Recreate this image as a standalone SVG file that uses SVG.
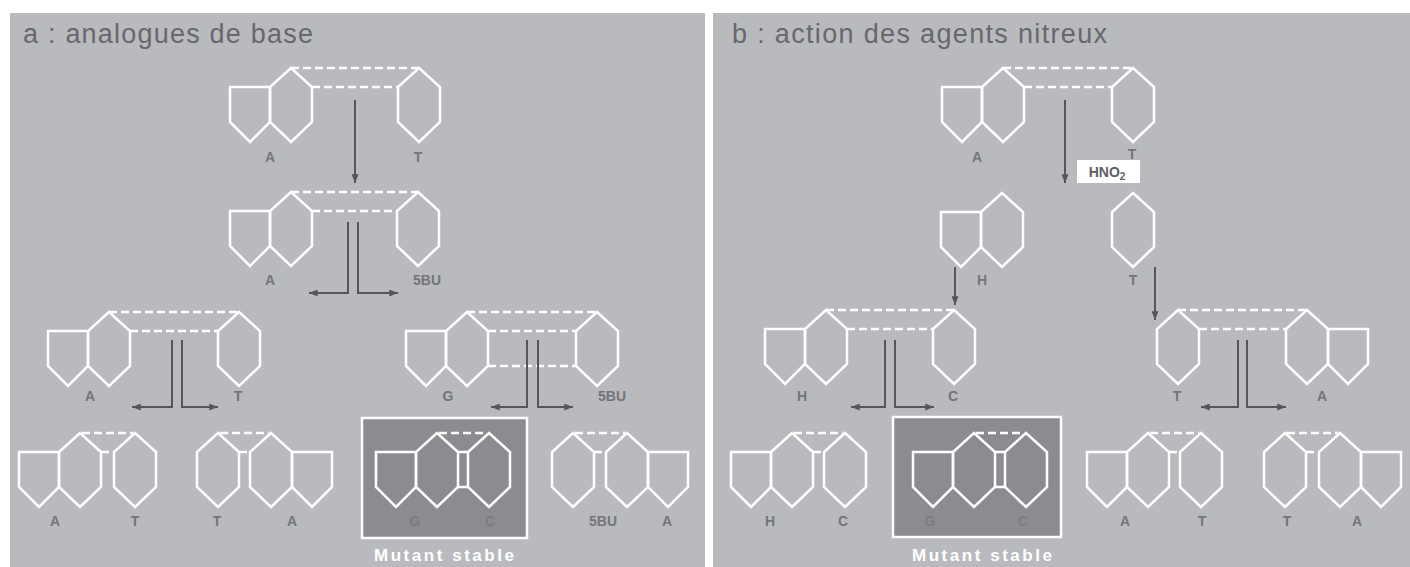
<svg xmlns="http://www.w3.org/2000/svg" xmlns:xlink="http://www.w3.org/1999/xlink" width="1410" height="567" viewBox="0 0 1410 567">
  <style>
    .ring { fill: none; stroke: #ffffff; stroke-width: 2.5; stroke-linejoin: miter; }
    .hb { fill: none; stroke: #ffffff; stroke-width: 2.5; stroke-dasharray: 8 4; }
    .bond { fill: none; stroke: #ffffff; stroke-width: 2.5; }
    .arrow { fill: none; stroke: #55565a; stroke-width: 2; }
    .lbl { font-family: "Liberation Sans", Arial, sans-serif; font-size: 14px; font-weight: bold; fill: #74757a; text-anchor: middle; }
    .lbl-dark { font-family: "Liberation Sans", Arial, sans-serif; font-size: 14px; font-weight: bold; fill: #7b7c80; text-anchor: middle; }
    .title { font-family: "Liberation Sans", Arial, sans-serif; font-size: 27px; fill: #67686c; }
    .mut { font-family: "Liberation Sans", Arial, sans-serif; font-size: 17px; font-weight: bold; fill: #ffffff; }
  </style>
  <defs>
    <!-- pyrimidine: single six-membered ring, origin at top vertex -->
    <polygon id="pyr" class="ring" points="0,0 21,19 21,54 0,74 -21,54 -21,19"/>
    <!-- purine: six-membered ring with five-membered ring on its left -->
    <g id="pur">
      <polygon class="ring" points="0,0 21,19 21,54 0,74 -21,54 -21,19"/>
      <polygon class="ring" points="-21,19 -61,19 -61,54 -41,74 -21,54"/>
    </g>
    <marker id="head" viewBox="0 0 10 8" refX="10" refY="4" markerWidth="9" markerHeight="7" markerUnits="userSpaceOnUse" orient="auto">
      <path d="M0,0 L10,4 L0,8 z" fill="#55565a"/>
    </marker>
  </defs>

  <!-- page and panels -->
  <rect x="0" y="0" width="1410" height="567" fill="#ffffff"/>
  <rect x="10" y="13" width="695" height="554" fill="#b9babe"/>
  <rect x="713" y="13" width="697" height="554" fill="#b9babe"/>

  <text class="title" x="23" y="43" textLength="290" lengthAdjust="spacing">a : analogues de base</text>
  <text class="title" x="732" y="43" textLength="375" lengthAdjust="spacing">b : action des agents nitreux</text>

  <!-- ===== panel a ===== -->
  <g id="a-AT-1">
    <use xlink:href="#pur" x="291" y="68"/>
    <use xlink:href="#pyr" x="419" y="68"/>
    <line class="hb" x1="291" y1="68" x2="419" y2="68"/>
    <line class="hb" x1="312" y1="87" x2="398" y2="87"/>
    <text class="lbl" x="270" y="162">A</text>
    <text class="lbl" x="418" y="162">T</text>
  </g>

  <g id="a-A5BU">
    <use xlink:href="#pur" x="291" y="192"/>
    <use xlink:href="#pyr" x="418" y="192"/>
    <line class="hb" x1="291" y1="192" x2="418" y2="192"/>
    <line class="hb" x1="312" y1="211" x2="397" y2="211"/>
    <text class="lbl" x="270" y="285">A</text>
    <text class="lbl" x="427" y="285">5BU</text>
  </g>

  <g id="a-AT-2">
    <use xlink:href="#pur" x="109" y="312"/>
    <use xlink:href="#pyr" x="239" y="312"/>
    <line class="hb" x1="109" y1="312" x2="239" y2="312"/>
    <line class="hb" x1="130" y1="331" x2="218" y2="331"/>
    <text class="lbl" x="90" y="401">A</text>
    <text class="lbl" x="238" y="401">T</text>
  </g>

  <g id="a-G5BU">
    <use xlink:href="#pur" x="467" y="312"/>
    <use xlink:href="#pyr" x="597" y="312"/>
    <line class="hb" x1="467" y1="312" x2="597" y2="312"/>
    <line class="hb" x1="488" y1="331" x2="576" y2="331"/>
    <line class="hb" x1="488" y1="366" x2="576" y2="366"/>
    <text class="lbl" x="448" y="401">G</text>
    <text class="lbl" x="612" y="401">5BU</text>
  </g>

  <g id="a-AT-3">
    <use xlink:href="#pur" x="80" y="433"/>
    <use xlink:href="#pyr" x="135" y="433"/>
    <line class="hb" x1="82" y1="433" x2="133" y2="433"/>
    <line class="hb" x1="101" y1="452" x2="114" y2="452"/>
    <text class="lbl" x="55" y="526">A</text>
    <text class="lbl" x="135" y="526">T</text>
  </g>

  <g id="a-TA">
    <use xlink:href="#pyr" x="218" y="433"/>
    <use xlink:href="#pur" transform="translate(271,433) scale(-1,1)"/>
    <line class="hb" x1="220" y1="433" x2="269" y2="433"/>
    <line class="hb" x1="239" y1="452" x2="250" y2="452"/>
    <text class="lbl" x="217" y="526">T</text>
    <text class="lbl" x="292" y="526">A</text>
  </g>

  <g id="a-GC-mutant">
    <rect x="362" y="418" width="165" height="120" fill="#8b8c90" stroke="#ffffff" stroke-width="2.5"/>
    <use xlink:href="#pur" x="437" y="433"/>
    <use xlink:href="#pyr" x="489" y="433"/>
    <line class="hb" x1="439" y1="433" x2="487" y2="433"/>
    <line class="bond" x1="458" y1="452" x2="468" y2="452"/>
    <line class="bond" x1="458" y1="487" x2="468" y2="487"/>
    <text class="lbl-dark" x="415" y="526">G</text>
    <text class="lbl-dark" x="490" y="526">C</text>
    <text class="mut" x="374" y="561" textLength="140" lengthAdjust="spacing">Mutant stable</text>
  </g>

  <g id="a-5BUA">
    <use xlink:href="#pyr" x="573" y="433"/>
    <use xlink:href="#pur" transform="translate(627,433) scale(-1,1)"/>
    <line class="hb" x1="575" y1="433" x2="625" y2="433"/>
    <line class="hb" x1="594" y1="452" x2="606" y2="452"/>
    <text class="lbl" x="603" y="526">5BU</text>
    <text class="lbl" x="667" y="526">A</text>
  </g>

  <!-- ===== panel b ===== -->
  <g id="b-AT-1">
    <use xlink:href="#pur" x="1003" y="68"/>
    <use xlink:href="#pyr" x="1133" y="68"/>
    <line class="hb" x1="1003" y1="68" x2="1133" y2="68"/>
    <line class="hb" x1="1024" y1="87" x2="1112" y2="87"/>
    <text class="lbl" x="977" y="162">A</text>
    <text class="lbl" x="1132" y="159">T</text>
  </g>

  <g id="b-HNO2">
    <rect x="1077" y="160" width="63" height="23" fill="#ffffff"/>
    <text x="1107" y="177" font-family="'Liberation Sans', Arial, sans-serif" font-size="14" font-weight="bold" fill="#5d5e62" text-anchor="middle">HNO<tspan font-size="10" dy="3">2</tspan></text>
  </g>

  <g id="b-H">
    <use xlink:href="#pur" x="1002" y="193"/>
    <text class="lbl" x="982" y="285">H</text>
  </g>

  <g id="b-T">
    <use xlink:href="#pyr" x="1133" y="193"/>
    <text class="lbl" x="1133" y="285">T</text>
  </g>

  <g id="b-HC-1">
    <use xlink:href="#pur" x="826" y="310"/>
    <use xlink:href="#pyr" x="954" y="310"/>
    <line class="hb" x1="826" y1="310" x2="954" y2="310"/>
    <line class="hb" x1="847" y1="329" x2="933" y2="329"/>
    <text class="lbl" x="802" y="401">H</text>
    <text class="lbl" x="953" y="401">C</text>
  </g>

  <g id="b-TA-1">
    <use xlink:href="#pyr" x="1178" y="310"/>
    <use xlink:href="#pur" transform="translate(1307,310) scale(-1,1)"/>
    <line class="hb" x1="1178" y1="310" x2="1307" y2="310"/>
    <line class="hb" x1="1199" y1="329" x2="1286" y2="329"/>
    <text class="lbl" x="1177" y="401">T</text>
    <text class="lbl" x="1322" y="401">A</text>
  </g>

  <g id="b-HC-2">
    <use xlink:href="#pur" x="792" y="433"/>
    <use xlink:href="#pyr" x="845" y="433"/>
    <line class="hb" x1="794" y1="433" x2="843" y2="433"/>
    <line class="hb" x1="813" y1="452" x2="824" y2="452"/>
    <text class="lbl" x="770" y="526">H</text>
    <text class="lbl" x="843" y="526">C</text>
  </g>

  <g id="b-GC-mutant">
    <rect x="893" y="417" width="168" height="120" fill="#8b8c90" stroke="#ffffff" stroke-width="2.5"/>
    <use xlink:href="#pur" x="974" y="433"/>
    <use xlink:href="#pyr" x="1026" y="433"/>
    <line class="hb" x1="976" y1="433" x2="1024" y2="433"/>
    <line class="bond" x1="995" y1="452" x2="1005" y2="452"/>
    <line class="bond" x1="995" y1="487" x2="1005" y2="487"/>
    <text class="lbl-dark" x="930" y="526">G</text>
    <text class="lbl-dark" x="1023" y="526">C</text>
    <text class="mut" x="912" y="561" textLength="140" lengthAdjust="spacing">Mutant stable</text>
  </g>

  <g id="b-AT-2">
    <use xlink:href="#pur" x="1148" y="433"/>
    <use xlink:href="#pyr" x="1201" y="433"/>
    <line class="hb" x1="1150" y1="433" x2="1199" y2="433"/>
    <line class="hb" x1="1169" y1="452" x2="1180" y2="452"/>
    <text class="lbl" x="1125" y="526">A</text>
    <text class="lbl" x="1202" y="526">T</text>
  </g>

  <g id="b-TA-2">
    <use xlink:href="#pyr" x="1285" y="433"/>
    <use xlink:href="#pur" transform="translate(1340,433) scale(-1,1)"/>
    <line class="hb" x1="1287" y1="433" x2="1338" y2="433"/>
    <line class="hb" x1="1306" y1="452" x2="1319" y2="452"/>
    <text class="lbl" x="1287" y="526">T</text>
    <text class="lbl" x="1357" y="526">A</text>
  </g>

  <!-- ===== connectors ===== -->
  <g id="connectors">
    <!-- panel a -->
    <line class="arrow" x1="355" y1="100" x2="355" y2="183" marker-end="url(#head)"/>
    <polyline class="arrow" points="348,222 348,293 309,293" marker-end="url(#head)"/>
    <polyline class="arrow" points="358,222 358,293 398,293" marker-end="url(#head)"/>
    <polyline class="arrow" points="172,340 172,407 132,407" marker-end="url(#head)"/>
    <polyline class="arrow" points="182,340 182,407 218,407" marker-end="url(#head)"/>
    <polyline class="arrow" points="527,340 527,407 491,407" marker-end="url(#head)"/>
    <polyline class="arrow" points="538,340 538,407 573,407" marker-end="url(#head)"/>
    <!-- panel b -->
    <line class="arrow" x1="1065" y1="100" x2="1065" y2="183" marker-end="url(#head)"/>
    <line class="arrow" x1="955" y1="267" x2="955" y2="305" marker-end="url(#head)"/>
    <line class="arrow" x1="1155" y1="267" x2="1155" y2="320" marker-end="url(#head)"/>
    <polyline class="arrow" points="885,340 885,407 851,407" marker-end="url(#head)"/>
    <polyline class="arrow" points="895,340 895,407 934,407" marker-end="url(#head)"/>
    <polyline class="arrow" points="1238,340 1238,407 1201,407" marker-end="url(#head)"/>
    <polyline class="arrow" points="1247,340 1247,407 1286,407" marker-end="url(#head)"/>
  </g>
</svg>
